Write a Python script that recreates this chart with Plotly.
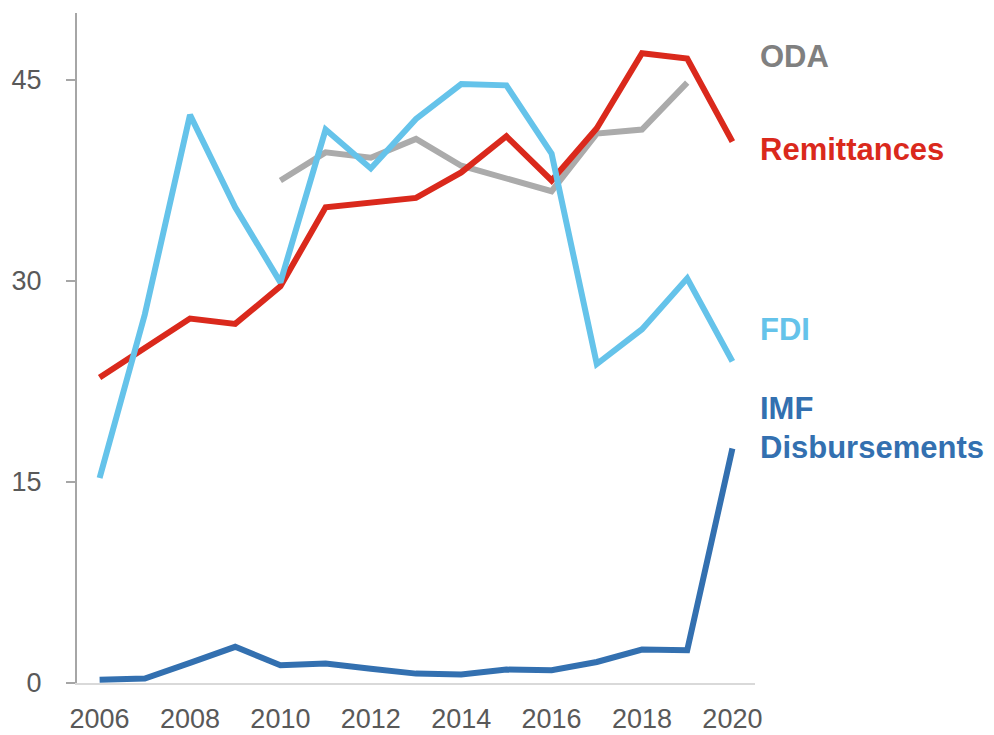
import plotly.graph_objects as go

years = list(range(2006, 2021))
fdi = [15.3, 27.5, 42.4, 35.5, 29.9, 41.3, 38.4, 42.1, 44.7, 44.6, 39.5, 23.8, 26.4, 30.2, 24.0]
remittances = [22.8, 25.0, 27.2, 26.8, 29.6, 35.5, 35.9, 36.2, 38.1, 40.8, 37.5, 41.4, 47.0, 46.6, 40.4]
oda_years = list(range(2010, 2020))
oda = [37.5, 39.6, 39.2, 40.6, 38.6, 37.7, 36.7, 41.0, 41.3, 44.8]
imf = [0.25, 0.33, 1.5, 2.7, 1.32, 1.45, 1.07, 0.7, 0.63, 1.0, 0.95, 1.57, 2.5, 2.45, 17.5]

y_ticks = [0, 15, 30, 45]
x_ticks = [2006, 2008, 2010, 2012, 2014, 2016, 2018, 2020]

# label text, vertical position (data units), colour
labels = [
    ("ODA", 46.75, "#808080"),
    ("Remittances", 39.8, "#DA291C"),
    ("FDI", 26.4, "#65C3EA"),
    ("IMF", 20.5, "#3370B0"),
    ("Disbursements", 17.6, "#3370B0"),
]

C_FDI = "#65C3EA"
C_REM = "#DA291C"
C_ODA = "#ABABAB"
C_IMF = "#3370B0"
LW = 6

fig = go.Figure()
fig.add_trace(go.Scatter(x=oda_years, y=oda, mode="lines", line=dict(color=C_ODA, width=LW), name="ODA"))
fig.add_trace(go.Scatter(x=years, y=remittances, mode="lines", line=dict(color=C_REM, width=LW), name="Remittances"))
fig.add_trace(go.Scatter(x=years, y=fdi, mode="lines", line=dict(color=C_FDI, width=LW), name="FDI"))
fig.add_trace(go.Scatter(x=years, y=imf, mode="lines", line=dict(color=C_IMF, width=LW), name="IMF Disbursements"))

for text, y, col in labels:
    fig.add_annotation(x=1.006, y=y, xref="paper", yref="y", text="<b>%s</b>" % text, showarrow=False,
                       xanchor="left", yanchor="middle", align="left", borderpad=0,
                       font=dict(family="Liberation Sans, Arial, sans-serif", size=31, color=col))

tick_font = dict(family="Liberation Sans Narrow, Arial Narrow, Liberation Sans, sans-serif", size=27, color="#595959")

# page body has an 8px margin, so the figure is drawn 8px smaller and offset
fig.update_layout(
    width=986, height=727,
    margin=dict(l=69, r=239, t=5, b=52, autoexpand=False),
    paper_bgcolor="white", plot_bgcolor="white",
    showlegend=False,
    xaxis=dict(range=[2005.5, 2020.5], tickvals=x_ticks, ticktext=[str(v) for v in x_ticks],
               showgrid=False, zeroline=False, showline=True, linecolor="#D9D9D9", linewidth=2,
               ticks="", tickfont=tick_font, ticklabelstandoff=11, automargin=False),
    yaxis=dict(range=[0, 50], tickvals=y_ticks, ticktext=[str(v) for v in y_ticks],
               showgrid=False, zeroline=False, showline=True, linecolor="#A6A6A6", linewidth=2,
               ticks="outside", ticklen=9, tickcolor="#A6A6A6", tickwidth=2,
               tickfont=tick_font, ticklabelstandoff=19, automargin=False),
)

fig.write_html("out.html")
